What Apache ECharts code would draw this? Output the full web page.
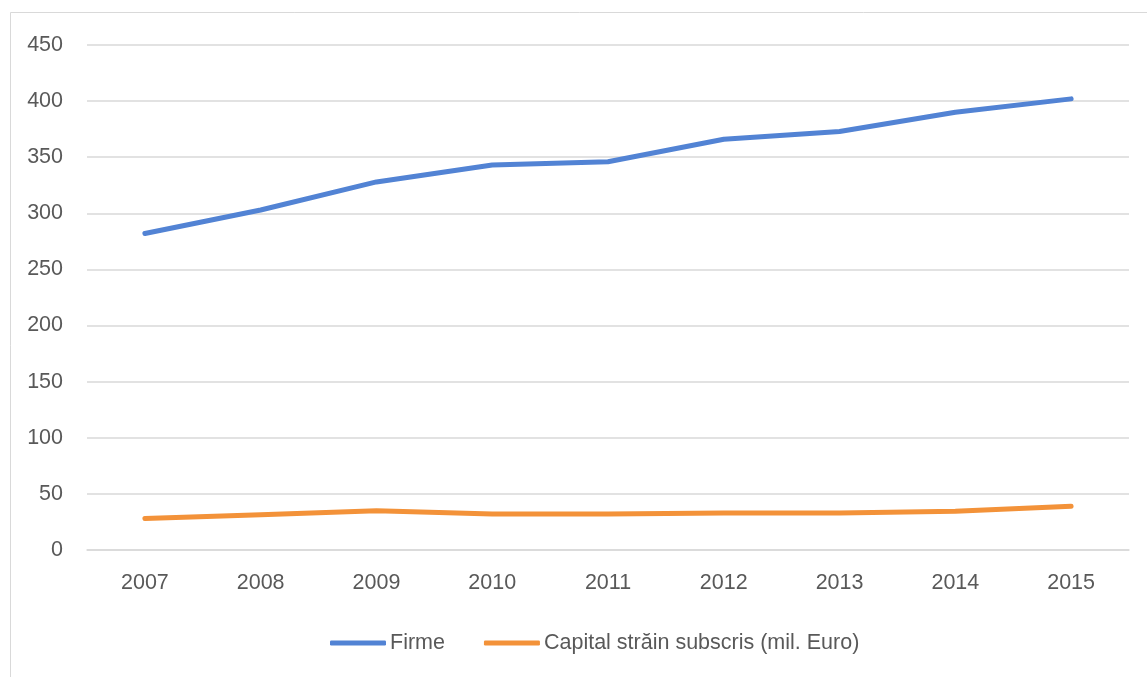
<!DOCTYPE html>
<html>
<head>
<meta charset="utf-8">
<script src="https://cdn.jsdelivr.net/npm/echarts@6/dist/echarts.min.js"></script>
<style>html,body{margin:0;padding:0;background:#fff}#c{width:1147px;height:677px}</style>
</head>
<body>
<div id="c"></div>
<script>
var years = ['2007','2008','2009','2010','2011','2012','2013','2014','2015'];
var firme = [282, 303, 328, 343, 346, 366, 373, 390, 402];
var capital = [28, 31.5, 35, 32, 32, 33, 33, 34.5, 39];
var seriesNames = ['Firme', 'Capital străin subscris (mil. Euro)'];

var chart = echarts.init(document.getElementById('c'));
var font = 'Liberation Sans';
chart.setOption({
  animation: false,
  backgroundColor: '#fff',
  graphic: [{
    type: 'rect', left: 8, top: 10,
    shape: { width: 1160, height: 700 },
    style: { fill: 'none', stroke: '#d9d9d9', lineWidth: 1 }
  }],
  grid: { left: 87, right: 18, top: 45, bottom: 127, containLabel: false },
  legend: {
    left: 325, top: 627,
    itemWidth: 56, itemHeight: 5, itemGap: 39,
    icon: 'roundRect',
    textStyle: { fontFamily: font, fontSize: 21.5, color: '#595959', padding: [0,0,0,-1] },
    data: seriesNames
  },
  xAxis: {
    type: 'category', data: years, boundaryGap: true,
    axisLine: { lineStyle: { color: '#d9d9d9', width: 1.5 } },
    axisTick: { show: false },
    axisLabel: { fontFamily: font, fontSize: 21.5, color: '#595959', margin: 22 }
  },
  yAxis: {
    type: 'value', min: 0, max: 450, interval: 50,
    axisLine: { show: false }, axisTick: { show: false },
    splitLine: { lineStyle: { color: '#d9d9d9', width: 1.5 } },
    axisLabel: { fontFamily: font, fontSize: 21.5, color: '#595959', margin: 24 }
  },
  series: [
    { name: seriesNames[0], type: 'line', data: firme, symbol: 'none',
      itemStyle: { color: '#5283d4' },
      lineStyle: { color: '#5283d4', width: 5, cap: 'round', join: 'round' } },
    { name: seriesNames[1], type: 'line', data: capital, symbol: 'none',
      itemStyle: { color: '#f39239' },
      lineStyle: { color: '#f39239', width: 5, cap: 'round', join: 'round' } }
  ]
});
</script>
</body>
</html>
